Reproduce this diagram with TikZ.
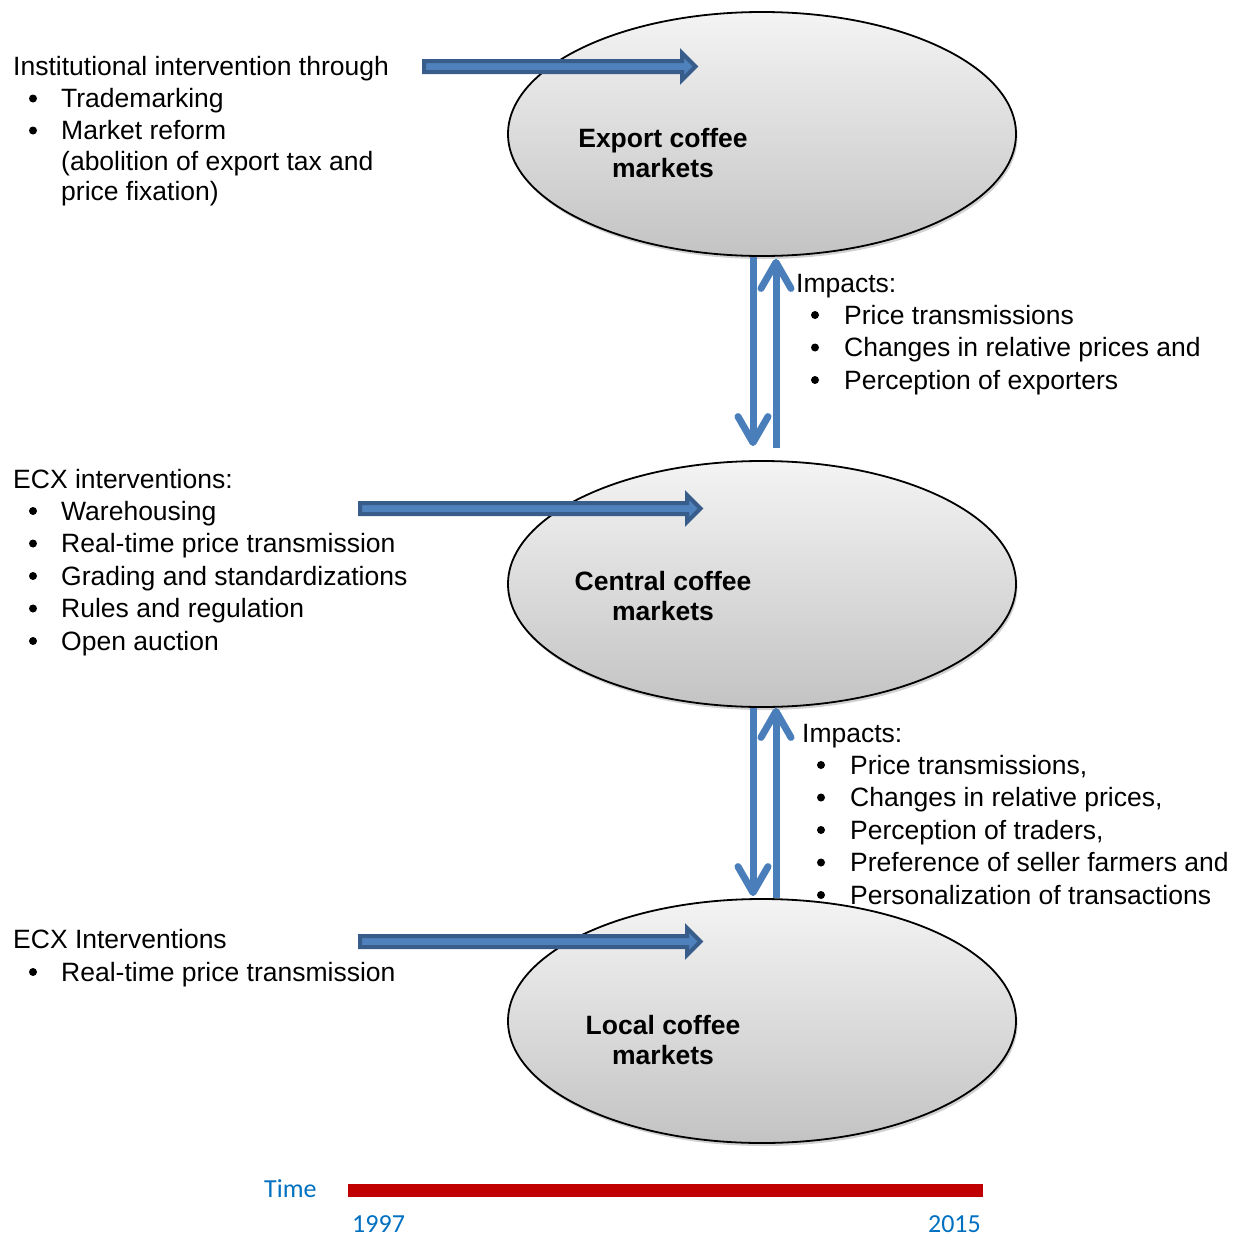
\documentclass[tikz,border=0pt]{standalone}
\usepackage{fontspec}
\setmainfont{Liberation Sans}
\newfontfamily\calfont{Carlito}
\usetikzlibrary{arrows.meta,shadows,shapes.geometric,calc}
\definecolor{arrowfill}{RGB}{79,129,189}
\definecolor{arrowedge}{RGB}{56,93,138}
\definecolor{vblue}{RGB}{74,126,187}
\definecolor{timeblue}{RGB}{0,112,192}
\definecolor{barred}{RGB}{192,0,0}
\newcommand{\fatarrow}[2]{%
  \draw[harrow] ($(#1)+(2,-5.5)$) -- ($(#2)+(-16,-5.5)$) -- ($(#2)+(-16,-13.5)$)
    -- ($(#2)+(-2.5,0)$) -- ($(#2)+(-16,13.5)$) -- ($(#2)+(-16,5.5)$)
    -- ($(#1)+(2,5.5)$) -- cycle;}
\begin{document}
\begin{tikzpicture}[x=1pt,y=-1pt,
  market/.style={ellipse, draw=black, line width=1.8pt, top color=gray!9, bottom color=gray!47,
    inner sep=0pt, minimum width=508pt,
    copy shadow={shadow xshift=1.5pt, shadow yshift=-3pt, fill=black, opacity=0.18, draw=none}},
  txt/.style={font=\fontsize{26.5}{32}\selectfont, anchor=base west, inner sep=0pt},
  lbl/.style={font=\bfseries\fontsize{26.5}{30}\selectfont, anchor=base, inner sep=0pt},
  bul/.style={circle, fill=black, inner sep=0pt, minimum size=8pt},
  harrow/.style={fill=arrowfill, draw=arrowedge, line width=4pt, line join=miter},
  varrow/.style={draw=vblue, line width=7pt, -{Straight Barb[length=26pt,width=30pt,round]}},
  timetxt/.style={font=\calfont\fontsize{26}{30}\selectfont, text=timeblue, anchor=base west, inner sep=0pt}
]
\useasboundingbox (0,0) rectangle (1239,1237);

% ellipses
\node[market, minimum height=244pt] (exp) at (762,134) {};
\node[market, minimum height=246pt] (cen) at (762,584) {};
\node[market, minimum height=244pt] (loc) at (762,1021) {};

\node[lbl] (expa) at (663,147) {Export coffee};
\node[lbl] (expb) at (663,177) {markets};
\node[lbl] (cena) at (663,590) {Central coffee};
\node[lbl] (cenb) at (663,620) {markets};
\node[lbl] (loca) at (663,1034) {Local coffee};
\node[lbl] (locb) at (663,1064) {markets};

% horizontal fat arrows
\coordinate (h1s) at (422,66.5);
\coordinate (h1e) at (698,66.5);
\coordinate (h2s) at (358,508.5);
\coordinate (h2e) at (703,508.5);
\coordinate (h3s) at (358,941.5);
\coordinate (h3e) at (703,941.5);
\fatarrow{h1s}{h1e}
\fatarrow{h2s}{h2e}
\fatarrow{h3s}{h3e}

% vertical arrows
\draw[varrow] ($(exp.south)+(-9,0)$) -- ($(cen.north)+(-9,-14)$);
\draw[varrow] ($(cen.north)+(14,-12)$) -- ($(exp.south)+(14,2)$);
\draw[varrow] ($(cen.south)+(-9,0)$) -- ($(loc.north)+(-9,-2)$);
\draw[varrow] ($(loc.north)+(14,0)$) -- ($(cen.south)+(14,0)$);

% block 1
\node[txt] (t1) at (13,75) {Institutional intervention through};
\node[bul] (b1a) at (33,98.5) {};
\node[txt] (t1a) at (61,107.5) {Trademarking};
\node[bul] (b1b) at (33,130.5) {};
\node[txt] (t1b) at (61,139.5) {Market reform};
\node[txt] (t1c) at (61,170.5) {(abolition of export tax and};
\node[txt] (t1d) at (61,200.5) {price fixation)};

% block 2
\node[txt] (t2) at (796,292) {Impacts:};
\node[bul] (b2a) at (815,315) {};
\node[txt] (t2a) at (844,324) {Price transmissions};
\node[bul] (b2b) at (815,347.5) {};
\node[txt] (t2b) at (844,356.5) {Changes in relative prices and};
\node[bul] (b2c) at (815,380) {};
\node[txt] (t2c) at (844,389) {Perception of exporters};

% block 3
\node[txt] (t3) at (13,488) {ECX interventions:};
\node[bul] (b3a) at (33,511) {};
\node[txt] (t3a) at (61,520) {Warehousing};
\node[bul] (b3b) at (33,543.5) {};
\node[txt] (t3b) at (61,552.5) {Real-time price transmission};
\node[bul] (b3c) at (33,576) {};
\node[txt] (t3c) at (61,585) {Grading and standardizations};
\node[bul] (b3d) at (33,608.5) {};
\node[txt] (t3d) at (61,617.5) {Rules and regulation};
\node[bul] (b3e) at (33,641) {};
\node[txt] (t3e) at (61,650) {Open auction};

% block 4
\node[txt] (t4) at (802,742) {Impacts:};
\node[bul] (b4a) at (821,765) {};
\node[txt] (t4a) at (850,774) {Price transmissions,};
\node[bul] (b4b) at (821,797.5) {};
\node[txt] (t4b) at (850,806.5) {Changes in relative prices,};
\node[bul] (b4c) at (821,830) {};
\node[txt] (t4c) at (850,839) {Perception of traders,};
\node[bul] (b4d) at (821,862.5) {};
\node[txt] (t4d) at (850,871.5) {Preference of seller farmers and};
\node[bul] (b4e) at (821,895) {};
\node[txt] (t4e) at (850,904) {Personalization of transactions};

% block 5
\node[txt] (t5) at (13,948) {ECX Interventions};
\node[bul] (b5a) at (33,972) {};
\node[txt] (t5a) at (61,981) {Real-time price transmission};

% timeline
\node[fill=barred, minimum width=635pt, minimum height=13pt, inner sep=0pt] (bar) at (665.5,1190.5) {};
\node[timetxt] (time) at (264,1197) {Time};
\node[timetxt] (y1) at (352,1232.5) {1997};
\node[timetxt, anchor=base east] (y2) at (981,1232.5) {2015};
\end{tikzpicture}
\end{document}
